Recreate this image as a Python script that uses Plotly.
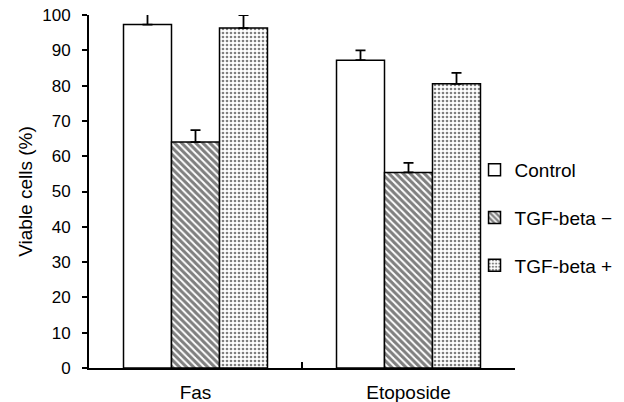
import plotly.graph_objects as go

categories = ["Fas", "Etoposide"]
series_names = ["Control", "TGF-beta \u2212", "TGF-beta +"]
control = [97.3, 87.2]
tgf_minus = [64.0, 55.4]
tgf_plus = [96.3, 80.5]
err_control = [3.0, 2.8]
err_minus = [3.4, 2.7]
err_plus = [3.7, 3.1]
y_ticks = [0, 10, 20, 30, 40, 50, 60, 70, 80, 90, 100]

FONT = "Liberation Sans, Arial, sans-serif"

def bar(name, vals, errs, pattern, group):
    return go.Bar(
        name=name, x=categories, y=vals,
        legendgroup=group,
        marker=dict(color="white", line=dict(color="black", width=1.5), pattern=pattern),
        error_y=dict(type="data", array=errs, arrayminus=[0] * len(errs), symmetric=False,
                     color="black", thickness=1.8, width=5),
    )

fig = go.Figure()
fig.add_trace(bar(series_names[0], control, err_control, dict(shape=""), "a"))
fig.add_trace(bar(series_names[1], tgf_minus, err_minus,
                  dict(shape="\\", size=5, solidity=0.6, fgcolor="black", bgcolor="white"), "b"))
fig.add_trace(bar(series_names[2], tgf_plus, err_plus,
                  dict(shape=".", size=4, solidity=0.35, fgcolor="black", bgcolor="white"), "c"))

fig.update_layout(
    width=624, height=402,
    margin=dict(l=89, r=109, t=15, b=34, autoexpand=False),
    paper_bgcolor="white", plot_bgcolor="white",
    barmode="group", bargap=0.324, bargroupgap=0,
    font=dict(family=FONT, size=17, color="black"),
    showlegend=True,
    legend=dict(x=0.905, y=0.615, xanchor="left", yanchor="top",
                font=dict(family=FONT, size=19, color="black"),
                tracegroupgap=20, bgcolor="rgba(0,0,0,0)", itemwidth=30),
    xaxis=dict(showline=True, linecolor="black", linewidth=2, ticks="inside", ticklen=6,
               tickwidth=1.5, tickcolor="black", tickson="boundaries", automargin=False,
               tickfont=dict(family=FONT, size=19), showgrid=False, ticklabelstandoff=6),
    yaxis=dict(range=[0, 100], tickvals=y_ticks, showline=True, linecolor="black", linewidth=2,
               ticks="outside", ticklen=5, tickwidth=1.5, tickcolor="black", showgrid=False,
               zeroline=False, tickfont=dict(family=FONT, size=17), ticklabelstandoff=8,
               automargin=False,
               title=dict(text="Viable cells (%)", font=dict(family=FONT, size=19), standoff=5)),
)

fig.write_html("out.html")
